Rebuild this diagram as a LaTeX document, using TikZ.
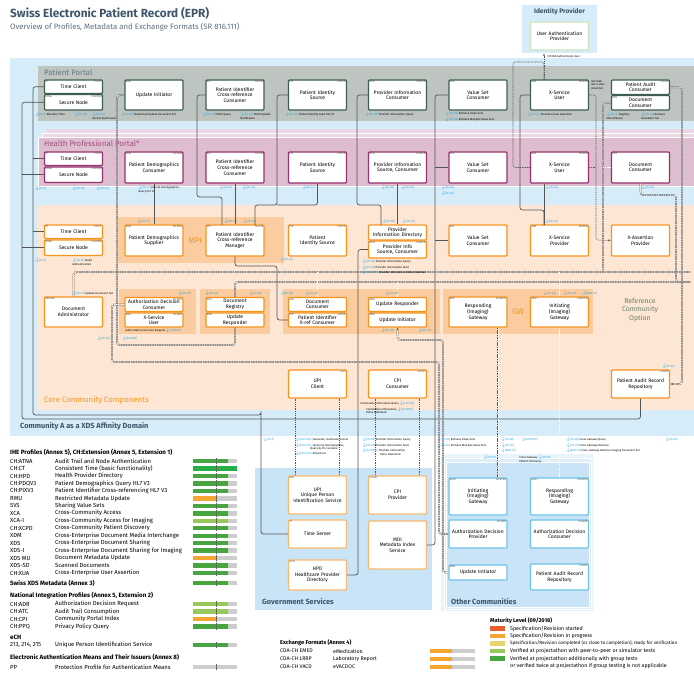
\documentclass[tikz,border=0pt]{standalone}
\usepackage{fontspec}
\setmainfont{Fira Sans}
\usetikzlibrary{arrows.meta,calc,positioning}
\definecolor{commblue}{RGB}{214,236,249}
\definecolor{ppgrey}{RGB}{190,197,192}
\definecolor{ppline}{RGB}{60,95,80}
\definecolor{hppink}{RGB}{221,189,207}
\definecolor{hplight}{RGB}{236,216,228}
\definecolor{hpline}{RGB}{150,50,110}
\definecolor{hptext}{RGB}{160,80,125}
\definecolor{corepeach}{RGB}{253,231,212}
\definecolor{coredark}{RGB}{250,204,160}
\definecolor{coreline}{RGB}{247,148,30}
\definecolor{gvline}{RGB}{250,185,110}
\definecolor{govblue}{RGB}{200,228,246}
\definecolor{othline}{RGB}{110,195,235}
\definecolor{othlight}{RGB}{232,244,252}
\definecolor{slate}{RGB}{62,86,106}
\definecolor{wiregrey}{RGB}{85,85,85}
\definecolor{transblue}{RGB}{30,160,220}
\definecolor{idpline}{RGB}{205,228,190}
\definecolor{refgreen}{RGB}{105,130,110}
\definecolor{barbg}{RGB}{205,205,205}
\definecolor{matgreen}{RGB}{70,165,60}
\definecolor{matlight}{RGB}{150,200,90}
\definecolor{matyellow}{RGB}{228,215,110}
\definecolor{matorange}{RGB}{245,165,50}
\definecolor{matred}{RGB}{230,95,45}
\definecolor{brightgreen}{RGB}{40,175,70}
\newcommand{\boxfont}{\fontsize{5}{5.6}\selectfont}
\newcommand{\tagfont}{\fontsize{2.7}{3}\selectfont}
\newcommand{\transfont}{\fontsize{2.8}{3.3}\selectfont}
\newcommand{\itx}[1]{\textcolor{transblue}{$\downarrow$[#1]}}
\tikzset{
  box/.style={draw,line width=1.1pt,fill=white,rounded corners=1pt,inner sep=0.5pt,
              align=center,font=\boxfont,minimum width=58,text width=56},
  ppbox/.style={box,draw=ppline},
  hpbox/.style={box,draw=hpline},
  cobox/.style={box,draw=coreline},
  gvbox/.style={box,draw=gvline,line width=1.2pt},
  otbox/.style={box,draw=othline,line width=1.2pt},
  tag/.style={font=\tagfont,inner sep=0.3pt,text=black!70},
  trans/.style={font=\transfont,inner sep=0.2pt,anchor=north west,align=left},
  zonelab/.style={anchor=west,inner sep=0,font=\fontsize{7.8}{8.5}\selectfont},
  grouplab/.style={anchor=west,inner sep=0,font=\fontsize{7.4}{8}\selectfont\bfseries,text=slate},
  legtxt/.style={anchor=west,inner sep=0,font=\fontsize{5.9}{6.4}\selectfont},
  leghead/.style={legtxt,font=\fontsize{6.2}{6.8}\selectfont\bfseries},
  mattxt/.style={anchor=west,inner sep=0,font=\fontsize{5.3}{6}\selectfont},
  bartick/.style={draw=black!60,line width=0.3pt},
  wire/.style={draw=wiregrey,line width=0.7pt,rounded corners=2.5pt},
  xds/.style={draw=wiregrey,line width=0.45pt,double=white,double distance=0.8pt,
              dash pattern=on 1.6pt off 0.8pt,rounded corners=2.5pt},
  dotw/.style={draw=wiregrey,line width=0.6pt,dash pattern=on 1pt off 0.8pt,rounded corners=2.5pt},
  tip/.style={-{Latex[length=2.5pt,width=2pt]}},
}
\newcommand{\ctag}[3]{%
  \node[tag,anchor=north west] (#1-tl) at ([shift={(1,1)}]#1.north west) {#2};
  \node[tag,anchor=north east] (#1-tr) at ([shift={(-1,1)}]#1.north east) {#3};}
\newcommand{\legrow}[6]{%
  \node[legtxt] (#1-ab) at (10,#2) {#3};
  \node[legtxt] (#1-tx) at (55,#2) {#4};
  \path[fill=barbg] (193,#2-2.2) rectangle (237,#2+2.2);
  \path[fill=#5] (193,#2-2.2) rectangle (#6,#2+2.2);
  \draw[bartick] (216,#2-3.2) -- (216,#2+3.2);}
\newcommand{\matrow}[3]{%
  \path[fill=#2] (490,#1-2.2) rectangle (505,#1+2.2);
  \node[mattxt] (mat-#1) at (510,#1) {#3};}

\begin{document}
\begin{tikzpicture}[x=1pt,y=-1pt]
  \useasboundingbox (0,0) rectangle (694,674);
  \node[anchor=west,inner sep=0,font=\fontsize{11.8}{13}\selectfont\bfseries,text=slate] (title) at (10,13)
    {Swiss Electronic Patient Record (EPR)};
  \node[anchor=west,inner sep=0,font=\fontsize{7.8}{9}\selectfont,text=slate!85] (subtitle) at (10,27)
    {Overview of Profiles, Metadata and Exchange Formats (SR 816.111)};

  % zones
  \fill[commblue] (10,58) rectangle (694,436);
  \fill[ppgrey] (38,66) rectangle (694,121);
  \fill[hplight] (46,129) rectangle (694,185);
  \draw[white,fill=hplight,line width=0.6pt] (42,133) rectangle (696,185);
  \draw[white,fill=hppink,line width=0.6pt] (38,137) rectangle (696,186);
  \fill[corepeach] (38,205) rectangle (694,410);
  \fill[coredark] (118,217) rectangle (284,263);
  \fill[coredark] (119,289) rectangle (196,334);
  \fill[coredark] (200,289) rectangle (270,334);
  \fill[coredark] (283,289) rectangle (440,334);
  \fill[coredark] (443,289) rectangle (593,334);
  \node[zonelab,text=slate!80] (pp-lab) at (44,73) {Patient Portal};
  \node[zonelab,text=hptext] (hp-lab) at (44,144) {Health Professional Portal*};
  \node[zonelab,text=coreline] (co-lab) at (44,400) {Core Community Components};
  \node[grouplab] (comm-lab) at (20,426) {Community A as a XDS Affinity Domain};
  \node[font=\fontsize{8}{9}\selectfont,text=coreline] (mpi-lab) at (195,241) {MPI};
  \node[font=\fontsize{8}{9}\selectfont,text=coreline] (gw-lab) at (518,312) {GW};
  \node[font=\fontsize{7}{8.2}\selectfont,text=refgreen,align=center] (ref-lab) at (640,310)
    {Reference\\Community\\Option};

  % identity provider
  \node[fill=commblue,minimum width=75,minimum height=48,inner sep=0] (idp) at (559.5,29) {};
  \node[font=\fontsize{6.6}{7}\selectfont\bfseries,text=slate] (idp-lab) at (559.5,12) {Identity Provider};
  \node[box,draw=idpline,minimum height=28] (idp-uap) at (559.5,36) {User Authentication\\Provider};

  % patient portal
  \node[ppbox,minimum height=13.5] (pp-tc) at (73.5,86.75) {Time Client};
  \node[ppbox,minimum height=15.5] (pp-sn) at (73.5,102.25) {Secure Node};
  \node[ppbox,minimum height=30] (pp-ui) at (154,95) {Update Initiator};
  \node[ppbox,minimum height=30] (pp-pixc) at (235,95) {Patient Identifier\\Cross-reference\\Consumer};
  \node[ppbox,minimum height=30] (pp-pis) at (317.5,95) {Patient Identity\\Source};
  \node[ppbox,minimum height=30] (pp-pic) at (397.5,95) {Provider Information\\Consumer};
  \node[ppbox,minimum height=30] (pp-vsc) at (478,95) {Value Set\\Consumer};
  \node[ppbox,minimum height=30] (pp-xsu) at (559.5,95) {X-Service\\User};
  \node[ppbox,minimum height=14.5] (pp-pac) at (640.5,87.25) {Patient Audit\\Consumer};
  \node[ppbox,minimum height=14.5] (pp-dc) at (640.5,102.75) {Document\\Consumer};
  \ctag{pp-tc}{CT}{CH:CT} \ctag{pp-sn}{ATNA}{CH:ATNA} \ctag{pp-ui}{RMU}{}
  \ctag{pp-pixc}{PIX}{CH:PIX} \ctag{pp-pis}{PIX}{CH:PIX} \ctag{pp-pic}{HPD}{CH:HPD}
  \ctag{pp-vsc}{SVS}{} \ctag{pp-xsu}{XUA}{CH:XUA} \ctag{pp-pac}{}{CH:ATC} \ctag{pp-dc}{XDS}{}

  % health professional portal
  \node[hpbox,minimum height=13.5] (hp-tc) at (73.5,158.75) {Time Client};
  \node[hpbox,minimum height=15.5] (hp-sn) at (73.5,174.75) {Secure Node};
  \node[hpbox,minimum height=31] (hp-pdc) at (154,167.5) {Patient Demographics\\Consumer};
  \node[hpbox,minimum height=31] (hp-pixc) at (235,167.5) {Patient Identifier\\Cross-reference\\Consumer};
  \node[hpbox,minimum height=31] (hp-pis) at (317.5,167.5) {Patient Identity\\Source};
  \node[hpbox,minimum height=31] (hp-pic) at (397.5,167.5) {Provider Information\\Source, Consumer};
  \node[hpbox,minimum height=31] (hp-vsc) at (478,167.5) {Value Set\\Consumer};
  \node[hpbox,minimum height=31] (hp-xsu) at (559.5,167.5) {X-Service\\User};
  \node[hpbox,minimum height=31] (hp-dc) at (640.5,167.5) {Document\\Consumer};
  \ctag{hp-tc}{CT}{CH:CT} \ctag{hp-sn}{ATNA}{CH:ATNA} \ctag{hp-pdc}{PDQ}{CH:PDQ}
  \ctag{hp-pixc}{PIX}{CH:PIX} \ctag{hp-pis}{PIX}{CH:PIX} \ctag{hp-pic}{HPD}{CH:HPD}
  \ctag{hp-vsc}{SVS}{} \ctag{hp-xsu}{XUA}{CH:XUA} \ctag{hp-dc}{XDS}{}

  % core community components
  \node[cobox,minimum height=13.5] (co-tc) at (73.5,231.75) {Time Client};
  \node[cobox,minimum height=15.5] (co-sn) at (73.5,247.75) {Secure Node};
  \node[cobox,minimum height=31] (co-pds) at (154,240.5) {Patient Demographics\\Supplier};
  \node[cobox,minimum height=31] (co-pixm) at (235,240.5) {Patient Identifier\\Cross-reference\\Manager};
  \node[cobox,minimum height=31] (co-pis) at (317.5,240.5) {Patient\\Identity Source};
  \node[cobox,minimum height=15] (co-pid) at (397.5,232.5) {Provider\\Information Directory};
  \node[cobox,minimum height=17] (co-pisc) at (397.5,249.5) {Provider Info\\Source, Consumer};
  \node[cobox,minimum height=31] (co-vsc) at (478,240.5) {Value Set\\Consumer};
  \node[cobox,minimum height=31] (co-xsp) at (559.5,240.5) {X-Service\\Provider};
  \node[cobox,minimum height=31] (co-xap) at (640.5,240.5) {X-Assertion\\Provider};
  \node[cobox,minimum height=30] (co-da) at (73.5,312) {Document\\Administrator};
  \node[cobox,minimum height=14] (co-adc) at (154,304.5) {Authorization Decision\\Consumer};
  \node[cobox,minimum height=14] (co-xsu) at (154,320) {X-Service\\User};
  \node[cobox,minimum height=14] (co-dr) at (235,304.5) {Document\\Registry};
  \node[cobox,minimum height=14] (co-ur3) at (235,320) {Update\\Responder};
  \node[cobox,minimum height=14] (co-dc) at (317.5,304.5) {Document\\Consumer};
  \node[cobox,minimum height=14] (co-pixx) at (317.5,320) {Patient Identifier\\X-ref Consumer};
  \node[cobox,minimum height=14] (co-ur5) at (397.5,304.5) {Update Responder};
  \node[cobox,minimum height=14] (co-ui5) at (397.5,320) {Update Initiator};
  \node[cobox,minimum height=30] (co-rg) at (478,312) {Responding\\(Imaging)\\Gateway};
  \node[cobox,minimum height=30] (co-ig) at (559.5,312) {Initiating\\(Imaging)\\Gateway};
  \node[cobox,minimum height=28] (co-upic) at (317.5,384) {UPI\\Client};
  \node[cobox,minimum height=28] (co-cpic) at (397.5,384) {CPI\\Consumer};
  \node[cobox,minimum height=28] (co-parr) at (640.5,384) {Patient Audit Record\\Repository};
  \ctag{co-tc}{CT}{CH:CT} \ctag{co-sn}{ATNA}{CH:ATNA} \ctag{co-pds}{PDQ}{CH:PDQ}
  \ctag{co-pixm}{PIX}{CH:PIX} \ctag{co-pis}{PIX}{CH:PIX} \ctag{co-pisc}{HPD}{CH:HPD}
  \ctag{co-vsc}{SVS}{} \ctag{co-xsp}{XUA}{CH:XUA} \ctag{co-da}{XDS MU}{}
  \ctag{co-adc}{}{CH:ADR} \ctag{co-xsu}{XUA}{CH:ADR} \ctag{co-dr}{XDS}{} \ctag{co-ur3}{RMU}{}
  \ctag{co-dc}{XDS}{} \ctag{co-pixx}{PIX}{CH:PIX} \ctag{co-ur5}{RMU}{} \ctag{co-ui5}{RMU}{}
  \ctag{co-rg}{XCA}{CH:XCPD} \ctag{co-ig}{XCA-I}{CH:XCPD} \ctag{co-upic}{}{eCH}
  \ctag{co-cpic}{}{CH:CPI} \ctag{co-parr}{}{CH:ATC}

  % government services
  \fill[govblue] (255,468) rectangle (432,610);
  \node[grouplab] (gv-lab) at (262,602) {Government Services};
  \node[gvbox,minimum height=38] (gv-upi) at (317.5,495) {UPI\\Unique Person\\Identification Service};
  \node[gvbox,minimum height=38] (gv-cpi) at (397.5,495) {CPI\\Provider};
  \node[gvbox,minimum height=28] (gv-ts) at (317.5,534) {Time Server};
  \node[gvbox,minimum height=48] (gv-mdi) at (397.5,545) {MDI\\Metadata Index\\Service};
  \node[gvbox,minimum height=30] (gv-hpd) at (317.5,575) {HPD\\Healthcare Provider\\Directory};
  \ctag{gv-upi}{eCH}{} \ctag{gv-cpi}{CH:CPI}{} \ctag{gv-ts}{CT}{} \ctag{gv-mdi}{}{} \ctag{gv-hpd}{HPD}{}

  % other communities
  \fill[othlight] (441,454) rectangle (593,611);
  \draw[white,fill=govblue!60,line width=0.6pt] (444,458) rectangle (591,609);
  \draw[white,fill=govblue,line width=0.6pt] (446,462) rectangle (589,607);
  \node[grouplab] (ot-lab) at (451,602) {Other Communities};
  \node[otbox,minimum height=37] (ot-ig) at (478,496.5) {Initiating\\(Imaging)\\Gateway};
  \node[otbox,minimum height=37] (ot-rg) at (559.5,496.5) {Responding\\(Imaging)\\Gateway};
  \node[otbox,minimum height=28] (ot-adp) at (478,534) {Authorization Decision\\Provider};
  \node[otbox,minimum height=28] (ot-adc) at (559.5,534) {Authorization Decision\\Consumer};
  \node[otbox,minimum height=15] (ot-ui) at (478,572.5) {Update Initiator};
  \node[otbox,minimum height=26] (ot-parr) at (559.5,577) {Patient Audit Record\\Repository};
  \ctag{ot-ig}{XCA-I}{CH:XCPD} \ctag{ot-rg}{XCA-I}{CH:XCPD} \ctag{ot-adp}{}{CH:ADR}
  \ctag{ot-adc}{}{CH:ADR} \ctag{ot-ui}{RMU}{} \ctag{ot-parr}{}{CH:ATC}

  % connectors
  \coordinate (tbus) at (33,415);
  \coordinate (tsup) at (261,415);
  \coordinate (abus) at (22,419);
  \draw[wire] (pp-tc.west) -| (tbus) -| (tsup) |- (gv-ts.west);
  \draw[wire] (hp-tc.west) -- (hp-tc.west -| tbus);
  \draw[wire] (co-tc.west) -- (co-tc.west -| tbus);
  \draw[wire] (pp-sn.west) -| (abus) -| (co-parr.south);
  \draw[wire] (hp-sn.west) -- (hp-sn.west -| abus);
  \draw[wire] (co-sn.west) -- (co-sn.west -| abus);

  \coordinate (pix-a) at (197,197);
  \coordinate (pixm-in) at (222,225);
  \draw[wire] (pp-pixc.west) -| (pix-a) -| (pixm-in);
  \draw[wire] (hp-pixc.south) -- (co-pixm.north);
  \draw[wire] (hp-pdc.south) -- (co-pds.north);
  \coordinate (pis-a) at (277,205);
  \coordinate (pixm-in2) at (255,225);
  \draw[wire] (pp-pis.west) -| (pis-a) -| (pixm-in2);
  \draw[wire] (hp-pis.south) |- (pis-a);
  \coordinate (px-a) at (277,266);
  \draw[wire] (co-pixx.west) -| (px-a) -| (co-pixm.south);
  \coordinate (pic-a) at (357,205);
  \coordinate (pid-in) at (381,225);
  \draw[wire] (pp-pic.west) -| (pic-a) -| (pid-in);
  \draw[wire] (hp-pic.south) -- (co-pid.north);
  \coordinate (hpd-x) at (358,575);
  \draw[wire] (co-pisc.west) -| (hpd-x) -- (gv-hpd.east);
  \coordinate (vs-x) at (435,300);
  \draw[wire] (pp-vsc.west) -| (vs-x) |- (gv-mdi.east);
  \draw[wire] (hp-vsc.west) -- (hp-vsc.west -| vs-x);
  \draw[wire] (co-vsc.west) -- (co-vsc.west -| vs-x);
  \coordinate (xs-a) at (520,210);
  \coordinate (xsp-in) at (544,225);
  \draw[wire] (pp-xsu.west) -| (xs-a) -| (xsp-in);
  \draw[wire] (hp-xsu.south -| xsp-in) -- (xsp-in);

  \coordinate (xsu-up) at (544,80);
  \coordinate (idp-l) at (513,62);
  \draw[dotw,tip] (xsu-up) -- (xsu-up |- idp.south);
  \draw[dotw] (hp-xsu.west) -| (idp-l) -| (xsu-up);
  \coordinate (xap-x) at (596,240);
  \draw[dotw,tip] (pp-xsu.east) -| (xap-x) -- (co-xap.west);
  \draw[dotw] (hp-xsu.east) -- (hp-xsu.east -| xap-x);

  \coordinate (b1-e) at (690,272);
  \coordinate (b2-e) at (690,282);
  \coordinate (dc-x) at (603,272);
  \coordinate (hdc-a) at (676,195);
  \coordinate (pac-x) at (682,300);
  \draw[xds] (co-da.north) |- (b1-e);
  \draw[xds] (co-dr.north) |- (b2-e);
  \draw[xds] (pp-dc.west) -| (dc-x);
  \draw[xds] (hp-dc.west) -- (hp-dc.west -| dc-x);
  \draw[xds] (hp-dc.south) |- (hdc-a) |- (b2-e);
  \draw[xds,tip] (pp-pac.east) -| (pac-x) |- (co-parr.east);
  \draw[xds] (co-dc.north) -- (co-dc.north |- b1-e);
  \draw[xds] (co-ur5.north) -- (co-ur5.north |- b2-e);
  \draw[xds] (co-ig.north) -- (co-ig.north |- b1-e);
  \coordinate (pui-a) at (117,345);
  \draw[xds] (pp-ui.west) -| (pui-a) -| (co-ur3.south);
  \coordinate (ad-a) at (112,362);
  \coordinate (ad-b) at (439,362);
  \draw[xds] (co-adc.west) -| (ad-a) -- (ad-b) |- (ot-adp.west);
  \coordinate (ui-x) at (443,340);
  \draw[xds,{Latex[length=2.5pt,width=2pt]}-] (co-ui5.south) |- (ui-x) |- (ot-ui.west);
  \draw[xds] ([xshift=20]co-rg.south) -- ([xshift=20]ot-ig.north);
  \draw[xds] (co-ig.south) -- (ot-rg.north);
  \draw[dotw] ([xshift=-22]co-upic.south) -- ([xshift=-22]gv-upi.north);
  \draw[dotw] ([xshift=22]co-upic.south) -- ([xshift=22]gv-upi.north);
  \draw[dotw] ([xshift=-22]co-cpic.south) -- ([xshift=-22]gv-cpi.north);
  \draw[dotw] ([xshift=22]co-cpic.south) -- ([xshift=22]gv-cpi.north);

  % transaction labels
  \node[trans] (t-idp) at (547,55) {CH:XUA Authenticate User};
  \node[trans] (t-getx) at (591,80) {Get Auth\\Get X-User\\Assertion};
  \node[trans] (t-pp1) at (35,112) {\itx{ITI-1} Maintain Time};
  \node[trans] (t-pp2) at (74,112) {\itx{ITI-19}};
  \node[trans] (t-pp3) at (92,112) {\itx{ITI-20}\\Record Audit Event};
  \node[trans] (t-pp4) at (121,112) {\itx{ITI-92} Restricted Update Document Set};
  \node[trans] (t-pp5) at (202,112) {\itx{ITI-45} PIXV3 Query};
  \node[trans] (t-pp6) at (240,112) {\itx{ITI-46} PIXV3 Update\\Notification};
  \node[trans] (t-pp7) at (285,112) {\itx{ITI-44} Patient Identity Feed HL7 V3};
  \node[trans] (t-pp8) at (365,112) {\itx{ITI-58} Provider Information Query};
  \node[trans] (t-pp9) at (445,111) {\itx{ITI-48} Retrieve Value Sets\\\itx{ITI-60} Retrieve Multiple Value Sets};
  \node[trans] (t-pp10) at (527,112) {\itx{ITI-40} Provide X-User Assertion};
  \node[trans] (t-pp11) at (606,112) {\itx{ITI-18} Registry\\Stored Query};
  \node[trans] (t-pp12) at (641,112) {\itx{ITI-43} Retrieve\\Document Set};
  \node[trans] (t-hp1) at (35,186) {\itx{ITI-1}};
  \node[trans] (t-hp2) at (72,186) {\itx{ITI-19}};
  \node[trans] (t-hp3) at (96,186) {\itx{ITI-20}};
  \node[trans] (t-hp4) at (138,185) {\itx{ITI-47} Patient Demographics\\Query HL7 V3};
  \node[trans] (t-hp5) at (219,185) {\itx{ITI-45}};
  \node[trans] (t-hp6) at (242,185) {\itx{ITI-46}};
  \node[trans] (t-hp7) at (302,185) {\itx{ITI-44}};
  \node[trans] (t-hp8) at (381,185) {\itx{ITI-58}};
  \node[trans] (t-hp9) at (401,185) {\itx{ITI-59}};
  \node[trans] (t-hp10) at (441,185) {\itx{ITI-48}\\\itx{ITI-60}};
  \node[trans] (t-hp11) at (545,185) {\itx{ITI-40}};
  \node[trans] (t-hp12) at (641,185) {\itx{ITI-40}};
  \node[trans] (t-co1) at (137,219) {\itx{ITI-47}};
  \node[trans] (t-co2) at (224,219) {\itx{ITI-45}};
  \node[trans] (t-co3) at (243,219) {\itx{ITI-46}};
  \node[trans] (t-co4) at (382,219) {\itx{ITI-58}};
  \node[trans] (t-co5) at (402,219) {\itx{ITI-59}};
  \node[trans] (t-co6) at (545,219) {\itx{ITI-40}};
  \node[trans] (t-co7) at (35,258) {\itx{ITI-1}};
  \node[trans] (t-co8) at (72,258) {\itx{ITI-19} Node\\Authentication};
  \node[trans] (t-co9) at (280,257) {\itx{ITI-44}};
  \node[trans] (t-co10) at (362,259) {\itx{ITI-58} Provider Information Query\\\itx{ITI-59} Provider Information Feed\\\itx{CH:PIDD} Provider Information Delta Download};
  \node[trans] (t-co11) at (72,291) {\itx{ITI-57} Update Document Set};
  \node[trans] (t-co12) at (178,291) {\itx{ITI-92}};
  \node[trans] (t-co13) at (205,291) {\itx{ITI-42}};
  \node[trans] (t-co14) at (249,291) {\itx{ITI-18}};
  \node[trans] (t-co15) at (280,291) {\itx{ITI-18}};
  \node[trans] (t-co16) at (305,291) {\itx{ITI-43}};
  \node[trans] (t-co17) at (385,291) {\itx{ITI-92}};
  \node[trans] (t-co18) at (543,291) {\itx{ITI-18}};
  \node[trans] (t-co19) at (563,291) {\itx{ITI-43}};
  \node[trans] (t-co20) at (582,291) {\itx{RAD-69}};
  \node[trans] (t-co21) at (125,328) {Authorization Decision Request \itx{CH:ADR}};
  \node[trans] (t-co22) at (97,336) {\itx{ITI-92}};
  \node[trans] (t-co23) at (122,336) {\itx{CH:ADR}};
  \node[trans] (t-co24) at (381,328) {\itx{ITI-92}};
  \node[trans] (t-co25) at (418,328) {\itx{ITI-92}};
  \node[trans] (t-co26) at (662,364) {\itx{ITI-81}};
  \node[trans] (t-cpi) at (360,401) {Community Information Query \itx{CH:CIQ}\\\hspace{6pt}Community Information \itx{CH:CIDD}\\\hspace{6pt}Delta Download};
  \node[trans] (t-b1) at (263,437) {\itx{ITI-1}};
  \node[trans] (t-b2) at (295,437) {\itx{eCH-0213} Generate, Inactivate, Cancel\\\itx{eCH-0214} Query by Demographics,\\\hspace{15pt}Query by ID, Compare\\\itx{eCH-0215} Broadcast};
  \node[trans] (t-b3) at (362,437) {\itx{ITI-58} Provider Information Query\\\itx{ITI-59} Provider Information Feed\\\itx{CH:PIDD} Provider Information\\\hspace{18pt}Delta Download};
  \node[trans] (t-b4) at (437,437) {\itx{ITI-48} Retrieve Value Sets\\\itx{ITI-60} Retrieve Multiple Value Sets};
  \node[trans] (t-b5) at (501,437) {\itx{ITI-38}\\\itx{ITI-39}\\\itx{RAD-75}};
  \node[trans] (t-b6) at (521,437) {\itx{CH:XCPD}};
  \node[trans] (t-b7) at (519,455) {Cross Gateway \itx{ITI-55}\\Patient Discovery};
  \node[trans] (t-b8) at (566,437) {\itx{ITI-38} Cross Gateway Query\\\itx{ITI-39} Cross Gateway Retrieve\\\itx{RAD-75} Cross Gateway Retrieve Imaging Document Set};
  \node[trans] (t-b9) at (665,437) {\itx{ITI-81}};
  \node[trans] (t-b10) at (483,455) {\itx{ITI-81}};

  % legend: profiles
  \node[leghead] (leg-ihe) at (10,452) {IHE Profiles (Annex 5), CH:Extension (Annex 5, Extension 1)};
  \legrow{atna}{461}{CH:ATNA}{Audit Trail and Node Authentication}{matgreen}{228}
  \legrow{ct}{468.5}{CH:CT}{Consistent Time (basic functionality)}{brightgreen}{237}
  \legrow{hpd}{476}{CH:HPD}{Health Provider Directory}{matgreen}{228}
  \legrow{pdq}{483.4}{CH:PDQV3}{Patient Demographics Query HL7 V3}{matgreen}{228}
  \legrow{pix}{490.9}{CH:PIXV3}{Patient Identifier Cross-referencing HL7 V3}{matgreen}{228}
  \legrow{rmu}{498.4}{RMU}{Restricted Metadata Update}{matorange}{216}
  \legrow{svs}{505.8}{SVS}{Sharing Value Sets}{matgreen}{228}
  \legrow{xca}{513.3}{XCA}{Cross-Community Access}{matgreen}{228}
  \legrow{xcai}{520.8}{XCA-I}{Cross-Community Access for Imaging}{matlight}{228}
  \legrow{xcpd}{528.2}{CH:XCPD}{Cross-Community Patient Discovery}{matgreen}{228}
  \legrow{xdm}{535.7}{XDM}{Cross-Enterprise Document Media Interchange}{matgreen}{228}
  \legrow{xds}{543.2}{XDS}{Cross-Enterprise Document Sharing}{matgreen}{228}
  \legrow{xdsi}{550.6}{XDS-I}{Cross-Enterprise Document Sharing for Imaging}{matgreen}{228}
  \legrow{xdsmu}{558.1}{XDS MU}{Document Metadata Update}{matorange}{216}
  \legrow{xdssd}{565.6}{XDS-SD}{Scanned Documents}{matgreen}{228}
  \legrow{xua}{573}{CH:XUA}{Cross-Enterprise User Assertion}{matgreen}{228}
  \legrow{meta}{583}{}{}{matgreen}{228}
  \node[leghead] (leg-meta) at (10,583) {Swiss XDS Metadata (Annex 3)};
  \node[leghead] (leg-nat) at (10,596) {National Integration Profiles (Annex 5, Extension 2)};
  \legrow{adr}{604}{CH:ADR}{Authorization Decision Request}{matlight}{228}
  \legrow{atc}{611.5}{CH:ATC}{Audit Trail Consumption}{matlight}{228}
  \legrow{cpi}{619}{CH:CPI}{Community Portal Index}{matorange}{216}
  \legrow{ppq}{626.5}{CH:PPQ}{Privacy Policy Query}{matgreen}{228}
  \node[leghead] (leg-ech) at (10,637) {eCH};
  \legrow{ech}{645}{213, 214, 215}{Unique Person Identification Service}{matgreen}{228}
  \node[leghead] (leg-auth) at (10,657) {Electronic Authentication Means and Their Issuers (Annex 8)};
  \legrow{pp}{667}{PP}{Protection Profile for Authentication Means}{barbg}{193}

  % legend: exchange formats
  \node[leghead,font=\fontsize{5.6}{6}\selectfont\bfseries] (leg-exf) at (280,643) {Exchange Formats (Annex 4)};
  \node[mattxt] (emed-ab) at (280,651) {CDA-CH EMED};
  \node[mattxt] (emed-tx) at (333,651) {eMedication};
  \node[mattxt] (lrrp-ab) at (280,659) {CDA-CH LRRP};
  \node[mattxt] (lrrp-tx) at (333,659) {Laboratory Report};
  \node[mattxt] (vacd-ab) at (280,667) {CDA-CH VACD};
  \node[mattxt] (vacd-tx) at (333,667) {eVACDOC};
  \path[fill=barbg] (430,648.8) rectangle (475,653.2);
  \path[fill=matorange] (430,648.8) rectangle (452,653.2);
  \path[fill=barbg] (430,656.8) rectangle (475,661.2);
  \path[fill=matorange] (430,656.8) rectangle (452,661.2);
  \path[fill=barbg] (430,664.8) rectangle (475,669.2);
  \path[fill=matorange] (430,664.8) rectangle (452,669.2);

  % legend: maturity
  \node[leghead,font=\fontsize{5.6}{6}\selectfont\bfseries] (leg-mat) at (490,621) {Maturity Level (09/2018)};
  \matrow{628.5}{matred}{Specification/Revision started}
  \matrow{636}{matorange}{Specification/Revision in progress}
  \matrow{643.5}{matyellow}{\fontsize{4.6}{5}\selectfont Specification/Revision completed (or close to completion); ready for verification}
  \matrow{651}{matlight}{Verified at projectathon with peer-to-peer or simulator tests}
  \matrow{658.5}{matgreen}{Verified at projectathon additionally with group tests}
  \node[mattxt] (mat-more) at (510,665.5) {or verified twice at projectathon if group testing is not applicable};
\end{tikzpicture}
\end{document}
